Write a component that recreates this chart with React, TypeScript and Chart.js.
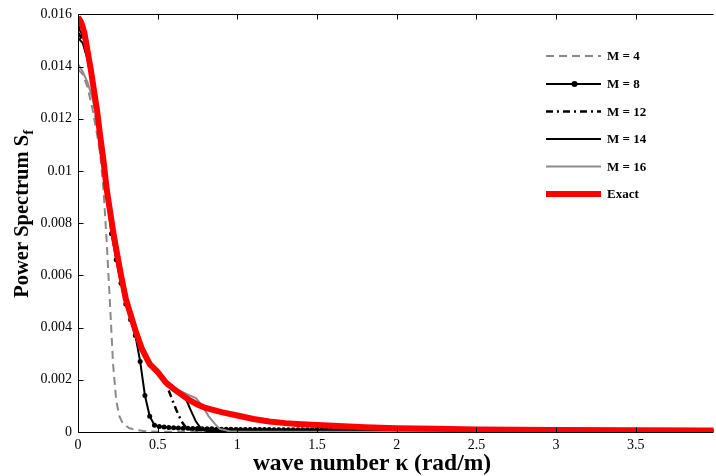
import React, { useEffect, useRef } from 'react';
import { Chart, registerables } from 'chart.js';

Chart.register(...registerables);

const FONT = '"Liberation Serif", "Times New Roman", serif';

const X_TICK_STEP = 0.5;
const Y_TICK_STEP = 0.002;
const X_MIN = 0;
const X_MAX = 3.9875;
const Y_MIN = 0;
const Y_MAX = 0.016;

const X_TITLE = 'wave number κ (rad/m)';
const Y_TITLE = 'Power Spectrum S';
const Y_TITLE_SUB = 'f';

const SERIES_LABELS = ['M = 4', 'M = 8', 'M = 12', 'M = 14', 'M = 16', 'Exact'];

const KAPPA_EXACT = [0, 0.02, 0.04, 0.06, 0.08, 0.1, 0.12, 0.14, 0.16, 0.18, 0.2, 0.22, 0.24, 0.27, 0.3, 0.33, 0.36, 0.4, 0.45, 0.5, 0.55, 0.6, 0.65, 0.7, 0.75, 0.8, 0.9, 1.0, 1.1, 1.2, 1.3, 1.4, 1.5, 1.6, 1.8, 2.0, 2.25, 2.5, 2.75, 3.0, 3.5, 4.0];
const S_EXACT = [0.0159, 0.0157, 0.0153, 0.0146, 0.0139, 0.0131, 0.0123, 0.0113, 0.0104, 0.0093, 0.0085, 0.0077, 0.007, 0.006, 0.0051, 0.0045, 0.0039, 0.0032, 0.0026, 0.0023, 0.0019, 0.00165, 0.00143, 0.00122, 0.00105, 0.00092, 0.00076, 0.00063, 0.0005, 0.0004, 0.00034, 0.0003, 0.00027, 0.00024, 0.00018, 0.00014, 0.00012, 0.0001, 0.00009, 0.00008, 0.00007, 0.00006];

const KAPPA_M4 = [0, 0.03, 0.06, 0.09, 0.12, 0.14, 0.16, 0.18, 0.2, 0.22, 0.24, 0.26, 0.28, 0.32, 0.36, 0.42, 0.5, 1.0, 4.0];
const S_M4 = [0.0139, 0.0137, 0.0132, 0.0124, 0.0114, 0.0106, 0.0093, 0.0073, 0.005, 0.0026, 0.0012, 0.0006, 0.00035, 0.00015, 0.00008, 0.00003, 0.00001, 0, 0];

const KAPPA_M8 = [
  0, 0.03, 0.06, 0.09, 0.12, 0.15, 0.18, 0.21, 0.24, 0.27,
  0.3, 0.33, 0.36, 0.39, 0.42, 0.45, 0.48, 0.51, 0.54, 0.57,
  0.6, 0.63, 0.66, 0.69, 0.72, 0.75, 0.78, 0.81, 0.84, 0.87,
  0.9, 0.93, 0.96, 0.99, 1.02, 1.05, 1.08, 1.11, 1.14, 1.17,
  1.2, 1.23, 1.26, 1.29, 1.32, 1.35, 1.38, 1.41, 1.44, 1.47,
  1.5, 1.53, 1.56, 1.59, 1.62, 1.65, 1.68, 1.71, 1.74, 1.77,
  1.8, 1.83, 1.86, 1.89, 1.92, 1.95, 1.98, 2.01, 2.04, 2.07,
  2.1, 2.13, 2.16, 2.19, 2.22, 2.25, 2.28, 2.31, 2.34, 2.37,
  2.4, 2.43, 2.46, 2.49, 2.52, 2.55, 2.58, 2.61, 2.64, 2.67,
  2.7, 2.73, 2.76, 2.79, 2.82, 2.85, 2.88, 2.91, 2.94, 2.97,
  3.0, 3.03, 3.06, 3.09, 3.12, 3.15, 3.18, 3.21, 3.24, 3.27,
  3.3, 3.33, 3.36, 3.39, 3.42, 3.45, 3.48, 3.51, 3.54, 3.57,
  3.6, 3.63, 3.66, 3.69, 3.72, 3.75, 3.78, 3.81, 3.84, 3.87,
  3.9, 3.93, 3.96, 3.99,
];
const S_M8 = [
  0.0155, 0.0152, 0.0145, 0.0134, 0.0121, 0.0107, 0.0093, 0.0076, 0.0066, 0.0057,
  0.0049, 0.0043, 0.0037, 0.0027, 0.0014, 0.0006, 0.00026, 0.00021, 0.00019, 0.00017,
  0.00016, 0.00015, 0.00014, 0.00014, 0.00013, 0.00013, 0.00012, 0.00012, 0.00012, 0.00011,
  0.00011, 0.00011, 0.00011, 0.0001, 0.0001, 0.0001, 0.0001, 0.0001, 0.0001, 0.0001,
  0.0001, 0.00009, 0.00009, 0.00009, 0.00009, 0.00009, 0.00009, 0.00009, 0.00009, 0.00009,
  0.00009, 0.00009, 0.00009, 0.00009, 0.00008, 0.00008, 0.00008, 0.00008, 0.00008, 0.00008,
  0.00008, 0.00008, 0.00008, 0.00008, 0.00008, 0.00008, 0.00008, 0.00007, 0.00007, 0.00007,
  0.00007, 0.00007, 0.00007, 0.00007, 0.00007, 0.00007, 0.00007, 0.00007, 0.00007, 0.00006,
  0.00006, 0.00006, 0.00006, 0.00006, 0.00006, 0.00006, 0.00006, 0.00006, 0.00006, 0.00006,
  0.00005, 0.00005, 0.00005, 0.00005, 0.00005, 0.00005, 0.00005, 0.00005, 0.00005, 0.00005,
  0.00005, 0.00005, 0.00005, 0.00005, 0.00005, 0.00005, 0.00005, 0.00004, 0.00004, 0.00004,
  0.00004, 0.00004, 0.00004, 0.00004, 0.00004, 0.00004, 0.00004, 0.00004, 0.00004, 0.00004,
  0.00004, 0.00003, 0.00003, 0.00003, 0.00003, 0.00003, 0.00003, 0.00003, 0.00003, 0.00003,
  0.00003, 0.00003, 0.00003, 0.00003,
];

const KAPPA_M12 = [0, 0.03, 0.06, 0.09, 0.12, 0.15, 0.18, 0.21, 0.24, 0.27, 0.3, 0.35, 0.4, 0.45, 0.5, 0.55, 0.575, 0.6, 0.62, 0.65, 0.68, 0.72, 0.8, 1.0, 1.5, 2.0, 3.0, 4.0];
const S_M12 = [0.0153, 0.015, 0.0143, 0.0133, 0.012, 0.0106, 0.0092, 0.0078, 0.0068, 0.0059, 0.005, 0.004, 0.0032, 0.0026, 0.0022, 0.0019, 0.0015, 0.0011, 0.0008, 0.0004, 0.00015, 0.00008, 0.00006, 0.00005, 0.00004, 0.00004, 0.00003, 0.00003];

const KAPPA_M14 = [0, 0.03, 0.06, 0.09, 0.12, 0.15, 0.18, 0.21, 0.24, 0.27, 0.3, 0.35, 0.4, 0.45, 0.5, 0.55, 0.6, 0.65, 0.68, 0.71, 0.74, 0.77, 0.8, 0.9, 4.0];
const S_M14 = [0.0151, 0.0149, 0.0143, 0.0133, 0.012, 0.0106, 0.0092, 0.0079, 0.0068, 0.0059, 0.005, 0.004, 0.0032, 0.0026, 0.0022, 0.0019, 0.0016, 0.00138, 0.00122, 0.0008, 0.0004, 0.00015, 0.00005, 0.00002, 0.00001];

const KAPPA_M16 = [0, 0.03, 0.06, 0.09, 0.12, 0.15, 0.18, 0.21, 0.24, 0.27, 0.3, 0.35, 0.4, 0.45, 0.5, 0.55, 0.6, 0.65, 0.7, 0.74, 0.78, 0.82, 0.86, 0.89, 0.95, 1.0, 4.0];
const S_M16 = [0.0141, 0.0138, 0.0134, 0.0128, 0.012, 0.0108, 0.0094, 0.0081, 0.007, 0.006, 0.0051, 0.0041, 0.0033, 0.0027, 0.0024, 0.002, 0.0017, 0.00155, 0.0014, 0.0013, 0.001, 0.0006, 0.0003, 0.00012, 0.00003, 0.00002, 0.00001];

type Style = { color: string; width: number; dash: number[]; marker: boolean };
const STYLES: Style[] = [
  { color: '#8a8a8a', width: 2, dash: [8, 5], marker: false },
  { color: '#000000', width: 2, dash: [], marker: true },
  { color: '#000000', width: 2.5, dash: [7, 4, 2, 4], marker: false },
  { color: '#000000', width: 2, dash: [], marker: false },
  { color: '#8c8c8c', width: 2, dash: [], marker: false },
  { color: '#ff0000', width: 6, dash: [], marker: false },
];

const toPoints = (xs: number[], ys: number[]) => xs.map((x, i) => ({ x, y: ys[i] }));

const decorPlugin = {
  id: 'decor',
  afterDraw(chart: any) {
    const { ctx, chartArea } = chart;
    const { left, top, right, bottom } = chartArea;
    const xs = chart.scales.x;
    const ys = chart.scales.y;
    ctx.save();
    ctx.strokeStyle = '#000';
    ctx.lineWidth = 1;
    ctx.setLineDash([]);
    const L = Math.round(left) + 0.5;
    const T = Math.round(top) + 0.5;
    const B = Math.round(bottom) + 0.5;
    ctx.beginPath();
    ctx.moveTo(L, T);
    ctx.lineTo(L, B);
    ctx.moveTo(L, T);
    ctx.lineTo(right, T);
    ctx.moveTo(L, B);
    ctx.lineTo(right, B);
    xs.ticks.forEach((t: any) => {
      const px = Math.round(xs.getPixelForValue(t.value)) + 0.5;
      ctx.moveTo(px, B);
      ctx.lineTo(px, B - 5);
      ctx.moveTo(px, T);
      ctx.lineTo(px, T + 5);
    });
    ys.ticks.forEach((t: any) => {
      const py = Math.round(ys.getPixelForValue(t.value)) + 0.5;
      ctx.moveTo(L, py);
      ctx.lineTo(L + 5, py);
    });
    ctx.stroke();

    // Legend
    const lx0 = 546;
    const lx1 = 601;
    const tx = 607;
    const rowY = [56, 84, 111.5, 139, 166.5, 194];
    ctx.font = `bold 13px ${FONT}`;
    ctx.textBaseline = 'middle';
    ctx.textAlign = 'left';
    chart.data.datasets.forEach((ds: any, i: number) => {
      const st = STYLES[i];
      const y = rowY[i];
      ctx.save();
      ctx.strokeStyle = st.color;
      ctx.lineWidth = st.width;
      ctx.setLineDash(st.dash);
      ctx.beginPath();
      ctx.moveTo(lx0, y);
      ctx.lineTo(lx1, y);
      ctx.stroke();
      if (st.marker) {
        ctx.fillStyle = st.color;
        ctx.beginPath();
        ctx.arc((lx0 + lx1) / 2 + 1, y, 3, 0, Math.PI * 2);
        ctx.fill();
      }
      ctx.restore();
      ctx.fillStyle = '#000';
      ctx.fillText(ds.label, tx, y + 1);
    });

    // X title
    ctx.font = `bold 23.5px ${FONT}`;
    ctx.textAlign = 'center';
    ctx.textBaseline = 'middle';
    ctx.fillStyle = '#000';
    ctx.fillText(X_TITLE, 372, 464);

    // Y title with subscript
    ctx.save();
    ctx.translate(23, 214);
    ctx.rotate(-Math.PI / 2);
    ctx.font = `bold 20.5px ${FONT}`;
    const w1 = ctx.measureText(Y_TITLE).width;
    ctx.font = `bold 14px ${FONT}`;
    const w2 = ctx.measureText(Y_TITLE_SUB).width;
    const start = -(w1 + w2) / 2;
    ctx.textAlign = 'left';
    ctx.font = `bold 20.5px ${FONT}`;
    ctx.fillText(Y_TITLE, start, 0);
    ctx.font = `bold 14px ${FONT}`;
    ctx.fillText(Y_TITLE_SUB, start + w1 + 0.5, 6);
    ctx.restore();

    ctx.restore();
  },
};

export default function App() {
  const ref = useRef<HTMLCanvasElement | null>(null);
  useEffect(() => {
    if (!ref.current) return;
    const seriesData = [
      toPoints(KAPPA_M4, S_M4),
      toPoints(KAPPA_M8, S_M8),
      toPoints(KAPPA_M12, S_M12),
      toPoints(KAPPA_M14, S_M14),
      toPoints(KAPPA_M16, S_M16),
      toPoints(KAPPA_EXACT, S_EXACT),
    ];
    const orders = [5, 4, 3, 2, 1, 0];
    const chart = new Chart(ref.current, {
      type: 'line',
      data: {
        datasets: seriesData.map((d, i) => ({
          label: SERIES_LABELS[i],
          data: d,
          borderColor: STYLES[i].color,
          backgroundColor: STYLES[i].color,
          borderWidth: STYLES[i].width,
          borderDash: STYLES[i].dash,
          pointRadius: STYLES[i].marker ? 2.5 : 0,
          pointBorderWidth: 0,
          pointBackgroundColor: STYLES[i].color,
          pointHoverRadius: 0,
          tension: 0,
          fill: false,
          order: orders[i],
          clip: 0,
        })),
      },
      options: {
        animation: false,
        responsive: false,
        maintainAspectRatio: false,
        events: [],
        layout: { padding: { left: 0, right: 0, top: 12, bottom: 0 } },
        plugins: { legend: { display: false }, tooltip: { enabled: false }, title: { display: false } },
        scales: {
          x: {
            type: 'linear',
            min: X_MIN,
            max: X_MAX,
            grid: { display: false, drawTicks: false, tickLength: 0 },
            border: { display: false },
            ticks: {
              stepSize: X_TICK_STEP,
              includeBounds: false,
              autoSkip: false,
              maxRotation: 0,
              padding: 5,
              color: '#000',
              font: { family: FONT, size: 14 },
              callback: (v: any) => String(parseFloat(Number(v).toFixed(1))),
            },
            afterFit: (s: any) => {
              s.height = 44;
            },
          },
          y: {
            type: 'linear',
            min: Y_MIN,
            max: Y_MAX,
            grid: { display: false, drawTicks: false, tickLength: 0 },
            border: { display: false },
            ticks: {
              stepSize: Y_TICK_STEP,
              padding: 6,
              color: '#000',
              font: { family: FONT, size: 14 },
              callback: (v: any) => String(parseFloat(Number(v).toFixed(3))),
            },
            afterFit: (s: any) => {
              s.width = 78;
            },
          },
        },
      },
      plugins: [decorPlugin],
    } as any);
    return () => chart.destroy();
  }, []);
  return (
    <div style={{ position: 'absolute', left: 0, top: 0, width: 716, height: 476, background: '#fff' }}>
      <canvas ref={ref} width={716} height={476} style={{ display: 'block' }} />
    </div>
  );
}
